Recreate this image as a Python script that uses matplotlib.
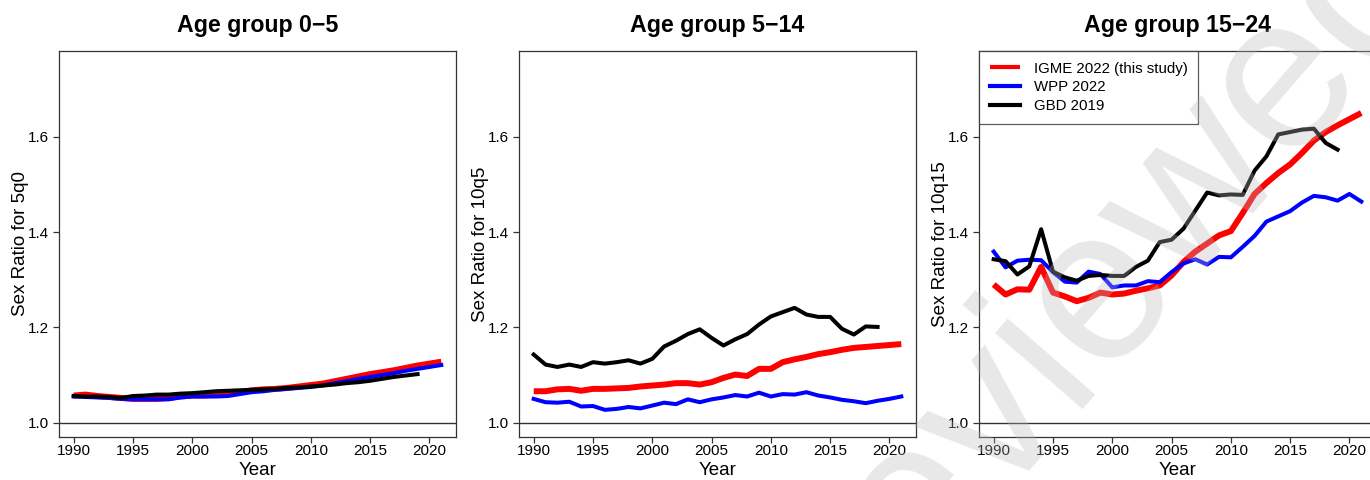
"""Sex ratio of mortality by age group: IGME vs WPP vs GBD"""

import matplotlib.pyplot as plt

plt.rcParams['font.family'] = ['Liberation Sans', 'DejaVu Sans']

years = list(range(1990, 2022))
years_gbd = list(range(1990, 2020))

# age 0-5 (5q0)
igme_0 = [1.057, 1.059, 1.056, 1.054, 1.052, 1.050, 1.050, 1.050, 1.052, 1.055,
          1.057, 1.057, 1.059, 1.062, 1.064, 1.068, 1.070, 1.071, 1.073, 1.076,
          1.079, 1.082, 1.087, 1.092, 1.097, 1.102, 1.106, 1.110, 1.115, 1.120,
          1.124, 1.128]
wpp_0 = [1.055, 1.054, 1.053, 1.052, 1.050, 1.049, 1.049, 1.049, 1.049, 1.053,
         1.055, 1.055, 1.055, 1.056, 1.060, 1.064, 1.066, 1.069, 1.071, 1.073,
         1.075, 1.078, 1.083, 1.087, 1.092, 1.096, 1.100, 1.104, 1.109, 1.113,
         1.117, 1.121]
gbd_0 = [1.056, 1.055, 1.055, 1.054, 1.052, 1.056, 1.057, 1.059, 1.059, 1.061,
         1.062, 1.064, 1.066, 1.067, 1.068, 1.069, 1.070, 1.071, 1.073, 1.074,
         1.076, 1.078, 1.080, 1.083, 1.085, 1.088, 1.092, 1.096, 1.099, 1.102]

# age 5-14 (10q5)
igme_5 = [1.066, 1.066, 1.070, 1.071, 1.067, 1.071, 1.071, 1.072, 1.073, 1.076,
          1.078, 1.080, 1.083, 1.083, 1.080, 1.085, 1.094, 1.101, 1.098, 1.113,
          1.113, 1.127, 1.133, 1.138, 1.144, 1.148, 1.153, 1.157, 1.159, 1.161,
          1.163, 1.165]
wpp_5 = [1.050, 1.043, 1.042, 1.044, 1.034, 1.035, 1.027, 1.029, 1.033, 1.030,
         1.036, 1.042, 1.039, 1.049, 1.043, 1.049, 1.053, 1.058, 1.055, 1.063,
         1.055, 1.060, 1.059, 1.064, 1.057, 1.053, 1.048, 1.045, 1.041, 1.046,
         1.050, 1.055]
gbd_5 = [1.143, 1.122, 1.117, 1.122, 1.117, 1.127, 1.124, 1.127, 1.131, 1.124,
         1.134, 1.160, 1.172, 1.186, 1.196, 1.178, 1.162, 1.175, 1.186, 1.206,
         1.223, 1.232, 1.241, 1.227, 1.222, 1.222, 1.197, 1.185, 1.202, 1.201]

# age 15-24 (10q15)
igme_15 = [1.290, 1.269, 1.280, 1.279, 1.327, 1.273, 1.265, 1.255, 1.262, 1.273,
           1.269, 1.271, 1.277, 1.282, 1.288, 1.309, 1.337, 1.359, 1.376, 1.393,
           1.402, 1.440, 1.480, 1.503, 1.524, 1.542, 1.566, 1.592, 1.610, 1.624,
           1.637, 1.650]
wpp_15 = [1.359, 1.326, 1.340, 1.342, 1.341, 1.316, 1.296, 1.294, 1.317, 1.312,
          1.284, 1.288, 1.288, 1.297, 1.295, 1.316, 1.334, 1.343, 1.332, 1.348,
          1.347, 1.369, 1.392, 1.422, 1.433, 1.444, 1.462, 1.476, 1.473, 1.466,
          1.480, 1.464]
gbd_15 = [1.343, 1.339, 1.311, 1.328, 1.406, 1.317, 1.305, 1.298, 1.308, 1.310,
          1.308, 1.308, 1.327, 1.340, 1.379, 1.384, 1.407, 1.445, 1.483, 1.477,
          1.479, 1.478, 1.529, 1.559, 1.605, 1.610, 1.615, 1.617, 1.587, 1.573]

titles = ['Age group 0\u22125', 'Age group 5\u221214', 'Age group 15\u221224']
ylabels = ['Sex Ratio for 5q0', 'Sex Ratio for 10q5', 'Sex Ratio for 10q15']
panels = [(igme_0, wpp_0, gbd_0), (igme_5, wpp_5, gbd_5),
          (igme_15, wpp_15, gbd_15)]

W, H = 1370, 480
fig = plt.figure(figsize=(W / 100, H / 100), dpi=100)

lefts = [59, 519, 979]
for i in range(3):
    ax = fig.add_axes([lefts[i] / W, 1 - 437 / H, 397 / W, 386 / H])
    igme, wpp, gbd = panels[i]
    ax.plot(years, igme, color='#ff0000', lw=4.3, label='IGME 2022 (this study)',
            solid_capstyle='butt')
    ax.plot(years, wpp, color='#0000ff', lw=2.9, label='WPP 2022')
    ax.plot(years_gbd, gbd, color='black', lw=2.9, label='GBD 2019')
    ax.axhline(1.0, color='#333333', lw=1)

    ax.set_xlim(1988.76, 2022.24)
    ax.set_ylim(0.97, 1.78)
    ax.set_xticks(range(1990, 2021, 5))
    ax.set_yticks([1.0, 1.2, 1.4, 1.6])
    ax.set_yticklabels(['1.0', '1.2', '1.4', '1.6'])
    ax.tick_params(labelsize=11, length=4, width=0.9, color='#333333',
                   direction='out')
    ax.tick_params(axis='x', pad=1)
    ax.tick_params(axis='y', pad=3)
    for s in ax.spines.values():
        s.set_color('#333333')
        s.set_linewidth(0.9)

    ax.set_xlabel('Year', fontsize=13.5, labelpad=3)
    ax.set_ylabel(ylabels[i], fontsize=13.5, labelpad=-0.5)
    ax.set_title(titles[i], fontsize=16.7, fontweight='bold', pad=14)

    if i == 2:
        leg = ax.legend(loc='upper left', fontsize=10.8, frameon=True,
                        fancybox=False, borderaxespad=0, handlelength=2.0,
                        handletextpad=0.95, labelspacing=0.33, borderpad=0.7)
        leg.get_frame().set_edgecolor('#333333')
        leg.get_frame().set_linewidth(0.9)
        for h in leg.get_lines():
            h.set_linewidth(3.0)

# preprint watermark across the right panel
fig.text(869 / W, 1 - 639 / H, 'reviewed', fontsize=158, rotation=49,
         rotation_mode='anchor', ha='left', va='baseline',
         color='#b9b9b9', alpha=0.33, zorder=10)

fig.savefig('out.png', dpi=100)
